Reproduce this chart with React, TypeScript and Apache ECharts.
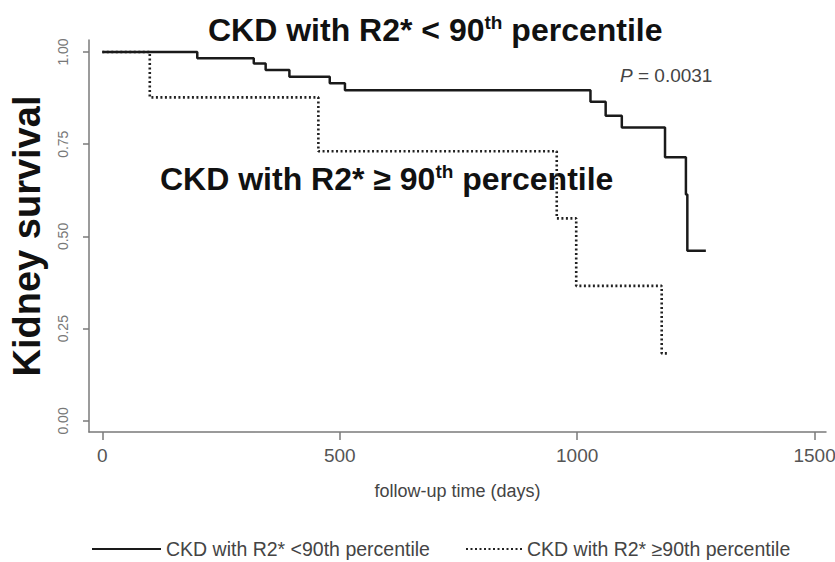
import React, { useEffect, useRef } from "react";
import * as echarts from "echarts";

const lowDays = [0, 200, 319, 344, 394, 479, 511, 1028, 1060, 1094, 1185, 1229, 1232, 1271];
const lowSurv = [1, 0.983, 0.969, 0.951, 0.933, 0.915, 0.896, 0.865, 0.827, 0.795, 0.715, 0.614, 0.461, 0.461];
const highDays = [0, 100, 455, 957, 998, 1178, 1191];
const highSurv = [1, 0.877, 0.731, 0.549, 0.366, 0.183, 0.183];
const xTicks = [0, 500, 1000, 1500];
const yTicks = [0, 0.25, 0.5, 0.75, 1];
const seriesNames = ["CKD with R2* <90th percentile", "CKD with R2* \u226590th percentile"];

const FONT = "'Liberation Sans', Arial, Helvetica, sans-serif";

export default function App() {
  const ref = useRef<HTMLDivElement>(null);
  useEffect(() => {
    if (!ref.current) return;
    const chart = echarts.init(ref.current, undefined, { renderer: "svg" });
    const axisColor = "#7a7a7a";
    const option = {
      animation: false,
      backgroundColor: "#ffffff",
      textStyle: { fontFamily: FONT },
      title: {
        text: "{a|CKD with R2* < 90}{sup|th}{a| percentile}",
        left: 203,
        top: 8,
        textStyle: {
          rich: {
            a: { fontSize: 32, fontWeight: "bold", color: "#111", fontFamily: FONT, lineHeight: 34 },
            sup: { fontSize: 19, fontWeight: "bold", color: "#111", fontFamily: FONT, verticalAlign: "top", lineHeight: 34, padding: [0, 0, 12, 0] },
          },
        },
      },
      legend: [
        {
          data: [seriesNames[0]],
          left: 86,
          top: 534,
          itemWidth: 69,
          itemHeight: 14,
          itemStyle: { opacity: 0 },
          textStyle: { fontSize: 19.5, color: "#444", fontFamily: FONT, padding: [0, 0, 0, 0] },
        },
        {
          data: [seriesNames[1]],
          left: 460,
          top: 534,
          itemWidth: 56,
          itemHeight: 14,
          itemStyle: { opacity: 0 },
          textStyle: { fontSize: 19.5, color: "#444", fontFamily: FONT, padding: [0, 0, 0, 0] },
        },
      ],
      grid: { left: 89, right: 9, top: 40, bottom: 130, outerBoundsMode: "none", containLabel: false },
      xAxis: {
        type: "value",
        min: -28,
        max: 1524,
        name: "follow-up time (days)",
        nameLocation: "middle",
        nameGap: 50,
        nameTextStyle: { fontSize: 18, color: "#444", fontFamily: FONT },
        axisLine: { show: true, onZero: false, lineStyle: { color: axisColor, width: 1.5 } },
        axisTick: { show: true, customValues: xTicks, length: 8, lineStyle: { color: axisColor, width: 1.5 } },
        axisLabel: {
          customValues: xTicks,
          fontSize: 19,
          color: "#555",
          margin: 14,
          fontFamily: FONT,
          formatter: (v: number) => String(v),
        },
        splitLine: { show: false },
      },
      yAxis: {
        type: "value",
        min: -0.03,
        max: 1.0325,
        name: "Kidney survival",
        nameLocation: "middle",
        nameGap: 43,
        nameRotate: 90,
        nameTextStyle: { fontSize: 38, fontWeight: "bold", color: "#111", fontFamily: FONT },
        axisLine: { show: true, onZero: false, lineStyle: { color: axisColor, width: 1.5 } },
        axisTick: { show: true, customValues: yTicks, length: 6, lineStyle: { color: axisColor, width: 1.5 } },
        axisLabel: {
          customValues: yTicks,
          rotate: 90,
          fontSize: 14,
          color: "#777",
          margin: 19,
          fontFamily: FONT,
          formatter: (v: number) => v.toFixed(2),
        },
        splitLine: { show: false },
      },
      series: [
        {
          name: seriesNames[0],
          type: "line",
          step: "end",
          symbol: "none",
          showSymbol: false,
          data: lowDays.map((d, i) => [d, lowSurv[i]]),
          lineStyle: { color: "#1a1a1a", width: 2.5, type: "solid" },
          itemStyle: { color: "#1a1a1a" },
          z: 3,
        },
        {
          name: seriesNames[1],
          type: "line",
          step: "end",
          symbol: "none",
          showSymbol: false,
          data: highDays.map((d, i) => [d, highSurv[i]]),
          lineStyle: { color: "#222", width: 2.6, type: [2, 2.5] },
          itemStyle: { color: "#222" },
          z: 2,
        },
      ],
      graphic: [
        {
          type: "text",
          left: 160,
          top: 162,
          style: {
            text: "{a|CKD with R2* \u2265 90}{sup|th}{a| percentile}",
            rich: {
              a: { fontSize: 32, fontWeight: "bold", fill: "#111", fontFamily: FONT, lineHeight: 34 },
              sup: { fontSize: 19, fontWeight: "bold", fill: "#111", fontFamily: FONT, verticalAlign: "top", lineHeight: 34, padding: [0, 0, 12, 0] },
            },
          },
        },
        {
          type: "text",
          left: 620,
          top: 66,
          style: {
            text: "{i|P}{n| = 0.0031}",
            rich: {
              i: { fontSize: 19, fontStyle: "italic", fill: "#444", fontFamily: FONT },
              n: { fontSize: 19, fill: "#444", fontFamily: FONT },
            },
          },
        },
      ],
    };
    chart.setOption(option as any);
    return () => chart.dispose();
  }, []);
  return <div ref={ref} style={{ position: "fixed", left: 0, top: 0, width: 835, height: 562 }} />;
}
